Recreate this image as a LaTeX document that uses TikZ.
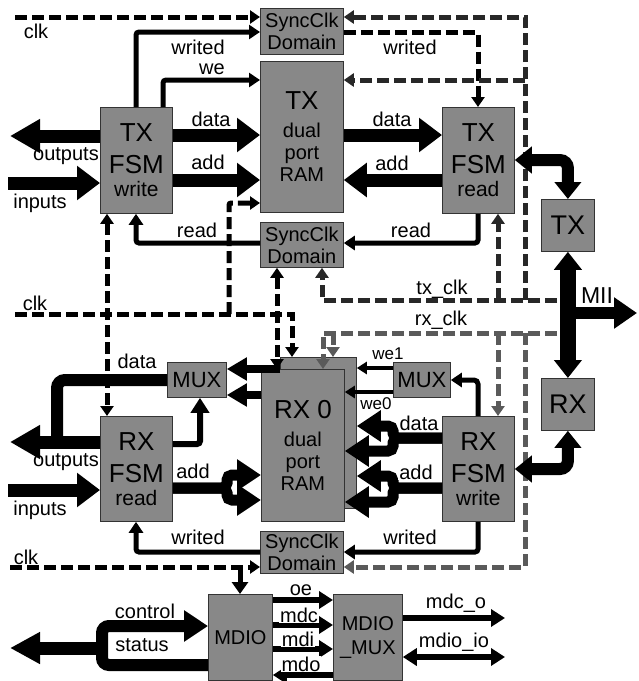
\documentclass[tikz,border=0pt]{standalone}
\usepackage{fontspec}
\setmainfont{Liberation Sans}
\usetikzlibrary{arrows.meta}
\definecolor{boxg}{RGB}{136,136,136}
\definecolor{dk}{RGB}{40,40,40}
\definecolor{md}{RGB}{90,90,90}
\newcommand\fsz[2]{\fontsize{#1}{#2}\selectfont}
\begin{document}
\begin{tikzpicture}[x=1pt,y=-1pt,
  box/.style={draw=black!80, line width=0.8pt, fill=boxg, inner sep=0pt, align=center, anchor=north west, text=black},
  thn/.style={line width=5pt, -{Triangle[length=11pt,width=14pt]}},
  dsh/.style={line width=5pt, dash pattern=on 12pt off 5pt, -{Triangle[length=10pt,width=13pt]}},
  dshb/.style={line width=5pt, dash pattern=on 12pt off 5pt, {Triangle[length=10pt,width=13pt]}-{Triangle[length=10pt,width=13pt]}},
  fat/.style={line width=13pt, -{Triangle[length=23pt,width=33pt]}},
  mfat/.style={line width=11pt, rounded corners=5pt, -{Triangle[length=24pt,width=30pt]}},
  io/.style={line width=13pt, -{Triangle[length=30pt,width=32pt]}},
  dbl/.style={line width=12pt, rounded corners=8pt, {Triangle[length=17pt,width=26pt]}-{Triangle[length=17pt,width=26pt]}},
  sig/.style={line width=5.5pt, -{Triangle[length=14pt,width=17pt]}},
  sigb/.style={line width=5.5pt, {Triangle[length=14pt,width=17pt]}-{Triangle[length=14pt,width=17pt]}},
  lbl/.style={font=\fsz{20}{22}, inner sep=1pt},
  wlbl/.style={lbl, fill=white},
  slbl/.style={font=\fsz{17}{19}, inner sep=1pt}
]
\useasboundingbox[fill=white] (0,0) rectangle (639,681);

% ---------- boxes ----------
\node[box,minimum width=83pt,minimum height=46pt,font=\fsz{20}{22}] (sc1) at (260,8) {SyncClk\\Domain};
\node[box,minimum width=72pt,minimum height=106pt,font=\fsz{26}{29}] (txw) at (100,107) {TX\\[3pt]FSM\\[-6pt]\fsz{21}{24}write};
\node[box,minimum width=83pt,minimum height=151pt,font=\fsz{26}{29}] (txram) at (260,61) {TX\\[-1pt]\fsz{20}{22}dual\\[-7pt]\fsz{20}{22}port\\[-7pt]\fsz{20}{22}RAM};
\node[box,minimum width=83pt,minimum height=45pt,font=\fsz{20}{22}] (sc2) at (260,222) {SyncClk\\Domain};
\node[box,minimum width=72pt,minimum height=106pt,font=\fsz{26}{29}] (txr) at (442,107) {TX\\[3pt]FSM\\[-6pt]\fsz{21}{24}read};
\node[box,minimum width=53pt,minimum height=52pt,font=\fsz{27}{30}] (tx) at (541,199) {TX};
\node[box,minimum width=53pt,minimum height=52pt,font=\fsz{27}{30}] (rx) at (541,378) {RX};
\node[box,minimum width=72pt,minimum height=105pt,font=\fsz{26}{29}] (rxw) at (442,416) {RX\\[3pt]FSM\\[-6pt]\fsz{21}{24}write};
\node[box,minimum width=72pt,minimum height=105pt,font=\fsz{26}{29}] (rxr) at (100,416) {RX\\[3pt]FSM\\[-6pt]\fsz{21}{24}read};
\node[box,minimum width=59pt,minimum height=35pt,font=\fsz{22}{24}] (mux1) at (167,362) {MUX};
\node[box,minimum width=57pt,minimum height=35pt,font=\fsz{22}{24}] (mux2) at (393,362) {MUX};
\node[box,minimum width=76pt,minimum height=151pt] (rxramb) at (280,357) {};
\node[box,minimum width=83pt,minimum height=152pt,font=\fsz{26}{29}] (rxram) at (261,369) {RX 0\\[-1pt]\fsz{20}{22}dual\\[-7pt]\fsz{20}{22}port\\[-7pt]\fsz{20}{22}RAM};
\node[box,minimum width=83pt,minimum height=42pt,font=\fsz{20}{22}] (sc3) at (260,531) {SyncClk\\Domain};
\node[box,minimum width=64pt,minimum height=86pt,font=\fsz{20}{22}] (mdio) at (208,594) {MDIO};
\node[box,minimum width=69pt,minimum height=86pt,font=\fsz{20}{22}] (mmux) at (333,594) {MDIO\\[2pt]\_MUX};

% ---------- TX part ----------
\coordinate (clkA) at (15,17);
\draw[dsh] (clkA) -- (sc1.west |- clkA);
\draw[thn, rounded corners=3pt] (136,0 |- txw.north) |- (sc1.west |- 0,32);
\draw[thn, rounded corners=3pt] (163,0 |- txw.north) |- (txram.west |- 0,80);
\draw[fat] (txw.east |- 0,135) -- (txram.west |- 0,135);
\draw[fat] (txw.east |- 0,180) -- (txram.west |- 0,180);
\coordinate (outA) at (10,136);
\draw[io] (txw.west |- outA) -- (outA);
\coordinate (inA) at (8,183);
\draw[fat] (inA) -- (txw.west |- inA);
\draw[fat] (txram.east |- 0,135) -- (txr.west |- 0,135);
\draw[fat] (txr.west |- 0,180) -- (txram.east |- 0,180);
\draw[dsh, rounded corners=2pt] (sc1.east |- 0,32) -| (478,0 |- txr.north);
% tx_clk network
\coordinate (txclk) at (557,300);
\draw[dsh, dk] (txclk) -| (322,0 |- sc2.south);
\draw[dsh, dk] (498,300) -- (498,0 |- txr.south);
\draw[dsh, dk] (525,300) |- (sc1.east |- 0,17);
\draw[dsh, dk] (525,80) -- (txram.east |- 0,80);
% read
\draw[thn, rounded corners=3pt] (478,0 |- txr.south) |- (sc2.east |- 0,243);
\draw[thn, rounded corners=3pt] (sc2.west |- 0,243) -| (136,0 |- txw.south);
% clk middle
\coordinate (clkB) at (15,314);
\draw[dsh] (clkB) -| (292,0 |- rxramb.north);
\draw[dsh, rounded corners=2pt] (229,314) |- (txram.west |- 0,203);
\draw[dshb] (107,0 |- txw.south) -- (107,0 |- rxr.north);
\draw[dshb] (277,0 |- sc2.south) -- (277,0 |- rxram.north);
% rx_clk network
\coordinate (rxclk) at (557,333);
\draw[dsh, md] (rxclk) -| (323,0 |- rxram.north);
\draw[dsh, md] (333,333) -- (333,0 |- rxramb.north);
\draw[dsh, md] (498,333) -- (498,0 |- rxw.north);
\draw[dsh, md] (525,333) |- (sc3.east |- 0,567);

% ---------- MII ----------
\draw[line width=16pt, {Triangle[length=18pt,width=27pt]}-{Triangle[length=18pt,width=27pt]}] (tx.south) -- (rx.north);
\coordinate (mii) at (637,313);
\draw[line width=12pt, -{Triangle[length=23pt,width=30pt]}] (tx.south |- mii) -- (mii);
\draw[dbl] (txr.east |- 0,160) -| (tx.north);
\draw[dbl] (rxw.east |- 0,469) -| (rx.south);

% ---------- RX part ----------
\draw[thn, rounded corners=4pt] (478,0 |- rxw.north) |- (mux2.east |- 0,380);
\draw[line width=4pt, -{Triangle[length=10pt,width=12pt]}] (mux2.west |- 0,368) -- (rxramb.east |- 0,368);
\draw[line width=4pt, -{Triangle[length=10pt,width=12pt]}] (mux2.west |- 0,392) -- (rxram.east |- 0,392);
\draw[mfat] (rxw.west |- 0,438) -| (393,426) -- (rxramb.east |- 0,426);
\draw[mfat] (rxw.west |- 0,438) -| (393,451) -- (rxram.east |- 0,451);
\draw[mfat] (rxw.west |- 0,488) -| (393,476) -- (rxramb.east |- 0,476);
\draw[mfat] (rxw.west |- 0,488) -| (393,502) -- (rxram.east |- 0,502);
\draw[mfat] (rxr.east |- 0,488) -| (227,475) -- (rxram.west |- 0,475);
\draw[mfat] (rxr.east |- 0,488) -| (227,500) -- (rxram.west |- 0,500);
\draw[line width=8pt, -{Triangle[length=20pt,width=22pt]}] (rxramb.west |- rxram.north) -- (mux1.east |- 0,369);
\draw[line width=8pt, -{Triangle[length=20pt,width=22pt]}] (rxram.west |- 0,395) -- (mux1.east |- 0,395);
\draw[line width=12pt, rounded corners=8pt] (mux1.west |- 0,380) -| (57,443);
\coordinate (outB) at (10,442);
\draw[io] (rxr.west |- outB) -- (outB);
\draw[line width=6pt, rounded corners=3pt, -{Triangle[length=15pt,width=18pt]}] (rxr.east |- 0,444) -| (200,0 |- mux1.south);
\coordinate (inB) at (8,490);
\draw[fat] (inB) -- (rxr.west |- inB);
\draw[thn, rounded corners=3pt] (sc3.west |- 0,552) -| (136,0 |- rxr.south);
\draw[thn, rounded corners=3pt] (478,0 |- rxw.south) |- (sc3.east |- 0,552);
\coordinate (clkC) at (10,567);
\draw[dsh] (clkC) -- (sc3.west |- clkC);
\draw[line width=5pt, -{Triangle[length=12pt,width=16pt]}] (240,567) -- (240,0 |- mdio.north);

% ---------- MDIO ----------
\draw[line width=12pt, rounded corners=7pt, -{Triangle[length=24pt,width=30pt]}] (mdio.west |- 0,665) -| (102,626) -- (mdio.west |- 0,626);
\coordinate (ctl) at (10,648);
\draw[line width=13pt, -{Triangle[length=30pt,width=30pt]}] (102,648) -- (ctl);
\draw[sig] (mdio.east |- 0,600) -- (mmux.west |- 0,600);
\draw[sig] (mdio.east |- 0,625) -- (mmux.west |- 0,625);
\draw[sig] (mdio.east |- 0,649) -- (mmux.west |- 0,649);
\draw[sig] (mmux.west |- 0,675) -- (mdio.east |- 0,675);
\coordinate (mdco) at (505,618);
\draw[sig] (mmux.east |- mdco) -- (mdco);
\coordinate (mdioio) at (505,657);
\draw[sigb] (mmux.east |- mdioio) -- (mdioio);

% ---------- labels ----------
\node[lbl] (l1) at (36,31) {clk};
\node[lbl] (l2) at (198,47) {writed};
\node[lbl] (l3) at (212,69) {we};
\node[lbl] (l4) at (211,119) {data};
\node[lbl] (l5) at (208,162) {add};
\node[lbl] (l6) at (66,156) {outputs};
\node[lbl] (l7) at (40,203) {inputs};
\node[lbl] (l8) at (392,119) {data};
\node[lbl] (l9) at (392,163) {add};
\node[lbl] (l10) at (410,47) {writed};
\node[lbl] (l11) at (197,230) {read};
\node[lbl] (l12) at (411,230) {read};
\node[lbl] (l13) at (35,303) {clk};
\node[lbl] (l14) at (442,289) {tx\_clk};
\node[lbl] (l15) at (441,320) {rx\_clk};
\node[lbl,font=\fsz{23}{25}] (l16) at (597,296) {MII};
\node[lbl] (l17) at (137,361) {data};
\node[lbl] (l18) at (66,462) {outputs};
\node[lbl] (l19) at (193,471) {add};
\node[lbl] (l20) at (40,510) {inputs};
\node[slbl] (l21) at (388,354) {we1};
\node[slbl] (l22) at (376,404) {we0};
\node[wlbl] (l23) at (419,423) {data};
\node[wlbl] (l24) at (416,472) {add};
\node[lbl] (l25) at (198,537) {writed};
\node[lbl] (l26) at (410,537) {writed};
\node[lbl] (l27) at (26,557) {clk};
\node[lbl] (l28) at (145,611) {control};
\node[lbl] (l29) at (142,645) {status};
\node[lbl] (l30) at (301,590) {oe};
\node[wlbl] (l31) at (299,615) {mdc};
\node[wlbl] (l32) at (298,639) {mdi};
\node[wlbl] (l33) at (301,664) {mdo};
\node[lbl] (l34) at (456,603) {mdc\_o};
\node[lbl] (l35) at (454,642) {mdio\_io};
\end{tikzpicture}
\end{document}
